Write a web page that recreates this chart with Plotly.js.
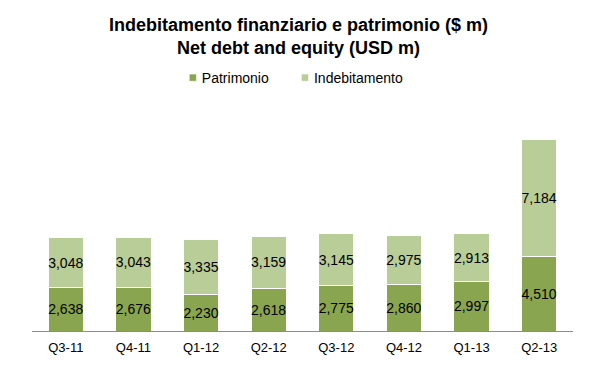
<!DOCTYPE html>
<html>
<head>
<meta charset="utf-8">
<script src="https://cdn.plot.ly/plotly-3.0.1.min.js"></script>
<style>html,body{margin:0;padding:0;background:#fff}#chart{width:591px;height:365px}</style>
</head>
<body>
<div id="chart"></div>
<script>
var categories = ["Q3-11","Q4-11","Q1-12","Q2-12","Q3-12","Q4-12","Q1-13","Q2-13"];
var patrimonio = [2638, 2676, 2230, 2618, 2775, 2860, 2997, 4510];
var indebitamento = [3048, 3043, 3335, 3159, 3145, 2975, 2913, 7184];
var seriesNames = ["Patrimonio", "Indebitamento"];

var darkGreen = "#8aa54f";
var lightGreen = "#b9cd98";
var labelFont = {family: "Liberation Sans, Arial, sans-serif", size: 14, color: "#000"};

var traces = [
  {
    type: "bar", name: seriesNames[0], x: categories, y: patrimonio,
    marker: {color: darkGreen, line: {color: "#ffffff", width: 1}},
    text: patrimonio.map(function(v){return v.toLocaleString("en-US");}),
    textposition: "inside", insidetextanchor: "middle", textangle: 0,
    constraintext: "none", textfont: labelFont, hoverinfo: "none"
  },
  {
    type: "bar", name: seriesNames[1], x: categories, y: indebitamento,
    marker: {color: lightGreen, line: {color: "#ffffff", width: 1}},
    text: indebitamento.map(function(v){return v.toLocaleString("en-US");}),
    textposition: "inside", insidetextanchor: "middle", textangle: 0,
    constraintext: "none", textfont: labelFont, hoverinfo: "none"
  }
];

var layout = {
  width: 591, height: 365,
  margin: {l: 32, r: 18, t: 134, b: 34, pad: 0},
  paper_bgcolor: "#fff", plot_bgcolor: "#fff",
  barmode: "stack", bargap: 0.48,
  uniformtext: {mode: "show", minsize: 14},
  title: {
    text: "<b>Indebitamento finanziario e patrimonio ($ m)<br>Net debt and equity (USD m)</b>",
    font: {family: "Liberation Sans Narrow, Arial Narrow, Liberation Sans, sans-serif", size: 18, color: "#000"},
    x: 0.505, xanchor: "center", y: 0.915, yanchor: "middle", yref: "container"
  },
  showlegend: true,
  legend: {
    orientation: "h", x: 0.24, xanchor: "left", y: 1.284, yanchor: "middle",
    font: {family: "Liberation Sans, Arial, sans-serif", size: 14, color: "#000"},
    traceorder: "normal", itemwidth: 30
  },
  xaxis: {
    type: "category", showgrid: false, zeroline: false,
    showline: true, linecolor: "#8c8c8c", linewidth: 1,
    ticks: "", ticklabelstandoff: 4,
    tickfont: {family: "Liberation Sans, Arial, sans-serif", size: 13, color: "#000"},
    fixedrange: true
  },
  yaxis: {
    range: [0, 12000], showgrid: false, zeroline: false, showline: false,
    showticklabels: false, ticks: "", fixedrange: true
  }
};

Plotly.newPlot("chart", traces, layout, {displayModeBar: false, staticPlot: true}).then(function(gd){
  // smaller legend swatches placed close to their text, as in the original
  var pts = gd.querySelectorAll(".legendpoints path");
  pts.forEach(function(p){ p.setAttribute("transform", "translate(31,0) scale(0.6)"); });
});
</script>
</body>
</html>
